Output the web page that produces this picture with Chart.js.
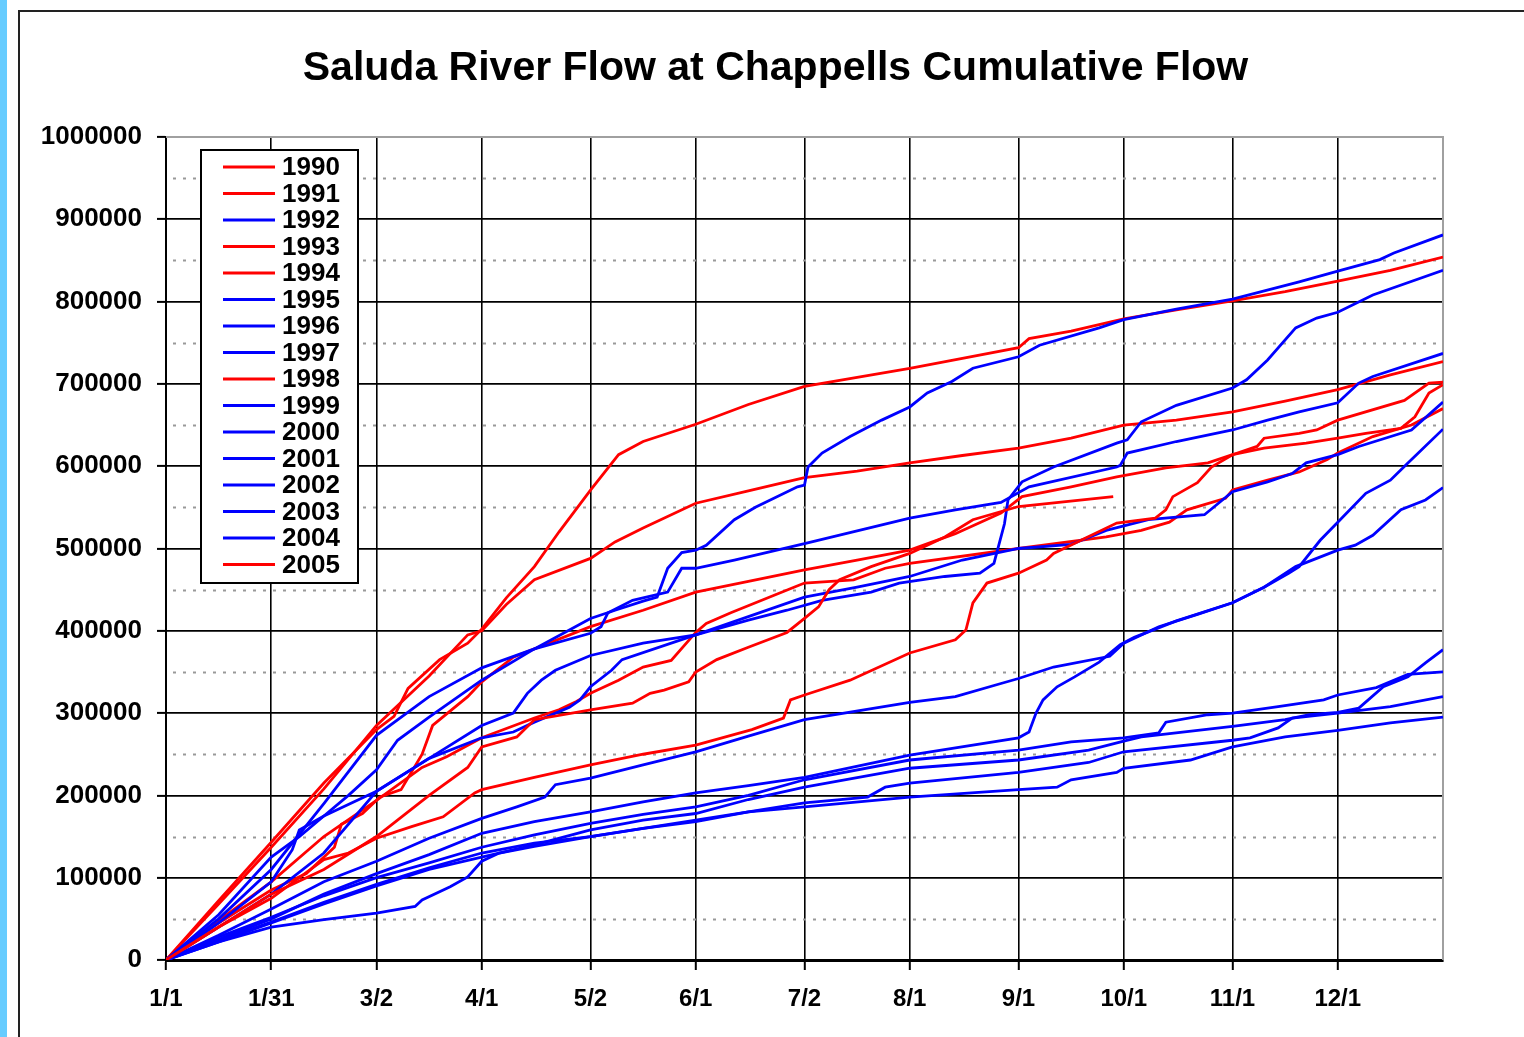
<!DOCTYPE html>
<html>
<head>
<meta charset="utf-8">
<title>Saluda River Flow at Chappells Cumulative Flow</title>
<script src="https://cdn.jsdelivr.net/npm/chart.js@4.4.1/dist/chart.umd.min.js"></script>
<style>
    html, body { margin: 0; padding: 0; background: #fff; }
    body { width: 1524px; height: 1037px; position: relative; overflow: hidden; }
    #strip { position: absolute; left: 0; top: 0; width: 7px; height: 1037px; background: #66ccff; }
    #frame { position: absolute; left: 18px; top: 10px; width: 1520px; height: 1040px; border-left: 2px solid #222; border-top: 2px solid #222; }
    #wrap { position: absolute; left: 0; top: 0; width: 1524px; height: 1037px; }
</style>
</head>
<body>
<div id="strip"></div>
<div id="frame"></div>
<div id="wrap"><canvas id="chartarea" width="1524" height="1037"></canvas></div>
<script>
// x axis is day of year (0 = 1/1), y is cumulative flow
var chartTitle = 'Saluda River Flow at Chappells Cumulative Flow';
var tickDays = [0, 30, 60, 90, 121, 151, 182, 212, 243, 273, 304, 334];
var tickLabels = ['1/1', '1/31', '3/2', '4/1', '5/2', '6/1', '7/2', '8/1', '9/1', '10/1', '11/1', '12/1'];

var years = ['1990', '1991', '1992', '1993', '1994', '1995', '1996', '1997',
             '1998', '1999', '2000', '2001', '2002', '2003', '2004', '2005'];

// [day, cumulative flow]
var flow1990 = [[0, 0], [15, 72000], [30, 143000], [45, 215000], [60, 280000], [65, 296000], [69, 330000], [78, 365000], [86, 385000], [90, 402000], [97, 440000], [105, 478000], [112, 520000], [121, 571000], [129, 614000], [136, 630000], [151, 651000], [166, 675000], [182, 697000], [197, 708000], [212, 719000], [227, 731000], [243, 744000], [246, 755000], [258, 764000], [273, 779000], [288, 790000], [304, 801000], [319, 812000], [334, 825000], [349, 838000], [364, 854000]];
var flow1991 = [[0, 0], [15, 68000], [30, 137000], [45, 208000], [60, 285000], [75, 345000], [86, 395000], [90, 400000], [97, 432000], [105, 462000], [121, 488000], [128, 508000], [136, 525000], [151, 555000], [166, 570000], [182, 586000], [197, 594000], [212, 604000], [227, 613000], [243, 622000], [258, 634000], [273, 650000], [288, 656000], [304, 666000], [319, 679000], [334, 693000], [349, 711000], [364, 727000]];
var flow1992 = [[0, 0], [15, 30000], [30, 62000], [45, 95000], [60, 120000], [75, 148000], [90, 172000], [100, 186000], [108, 198000], [111, 213000], [121, 221000], [136, 237000], [151, 253000], [166, 272000], [182, 292000], [212, 313000], [225, 320000], [238, 336000], [243, 342000], [253, 356000], [269, 369000], [273, 385000], [283, 405000], [294, 420000], [304, 434000], [313, 453000], [320, 470000], [323, 478000], [329, 510000], [334, 532000], [342, 567000], [349, 583000], [354, 604000], [364, 645000]];
var flow1993 = [[0, 0], [15, 45000], [30, 85000], [40, 105000], [48, 137000], [50, 165000], [56, 178000], [61, 198000], [67, 207000], [73, 250000], [76, 285000], [86, 320000], [90, 338000], [99, 368000], [121, 405000], [136, 425000], [151, 447000], [166, 460000], [182, 474000], [197, 486000], [212, 498000], [225, 518000], [238, 543000], [244, 563000], [258, 575000], [271, 587000], [285, 598000], [297, 604000], [304, 614000], [313, 622000], [325, 628000], [334, 634000], [342, 640000], [352, 646000], [356, 660000], [360, 689000], [364, 699000]];
var flow1994 = [[0, 0], [15, 48000], [30, 95000], [45, 150000], [60, 194000], [73, 234000], [80, 247000], [90, 270000], [105, 294000], [112, 304000], [117, 314000], [121, 324000], [129, 340000], [136, 356000], [144, 364000], [151, 398000], [154, 409000], [161, 422000], [179, 453000], [182, 458000], [196, 462000], [205, 476000], [212, 482000], [243, 500000], [268, 514000], [278, 522000], [286, 532000], [291, 547000], [302, 561000], [304, 571000], [314, 583000], [323, 593000], [331, 608000], [334, 616000], [344, 636000], [355, 650000], [364, 670000]];
var flow1995 = [[0, 0], [15, 50000], [30, 110000], [45, 190000], [60, 273000], [75, 320000], [90, 355000], [105, 378000], [121, 397000], [124, 405000], [126, 422000], [133, 437000], [143, 447000], [147, 476000], [151, 476000], [162, 486000], [182, 506000], [212, 537000], [225, 547000], [238, 556000], [246, 575000], [271, 599000], [272, 601000], [274, 616000], [288, 630000], [304, 644000], [314, 656000], [323, 666000], [334, 677000], [340, 701000], [344, 709000], [364, 737000]];
var flow1996 = [[0, 0], [15, 45000], [30, 95000], [36, 134000], [38, 158000], [45, 175000], [60, 205000], [75, 245000], [90, 285000], [99, 300000], [103, 324000], [107, 340000], [111, 352000], [121, 370000], [136, 385000], [151, 395000], [166, 413000], [177, 425000], [187, 437000], [201, 447000], [209, 458000], [222, 466000], [232, 470000], [236, 482000], [239, 530000], [240, 559000], [244, 581000], [253, 599000], [271, 628000], [274, 632000], [278, 654000], [288, 674000], [304, 695000], [308, 705000], [314, 729000], [322, 768000], [328, 780000], [334, 787000], [344, 808000], [364, 838000]];
var flow1997 = [[0, 0], [15, 40000], [30, 80000], [45, 130000], [60, 205000], [75, 245000], [90, 270000], [99, 277000], [105, 289000], [115, 307000], [118, 316000], [121, 332000], [127, 352000], [130, 365000], [151, 395000], [182, 441000], [197, 453000], [212, 466000], [227, 486000], [243, 500000], [258, 505000], [268, 522000], [280, 535000], [296, 541000], [304, 569000], [314, 581000], [321, 591000], [325, 604000], [334, 614000], [340, 624000], [355, 644000], [364, 678000]];
var flow1998 = [[0, 0], [15, 40000], [30, 75000], [45, 122000], [52, 130000], [60, 148000], [70, 162000], [79, 174000], [88, 203000], [90, 207000], [105, 222000], [121, 237000], [136, 250000], [151, 261000], [167, 280000], [176, 294000], [178, 316000], [182, 322000], [195, 340000], [212, 373000], [225, 389000], [228, 401000], [230, 434000], [234, 458000], [243, 470000], [251, 486000], [253, 494000], [271, 531000], [282, 537000], [285, 547000], [287, 563000], [294, 580000], [298, 599000], [304, 614000], [311, 624000], [313, 634000], [323, 640000], [328, 644000], [334, 656000], [353, 680000], [360, 701000], [364, 702000]];
var flow1999 = [[0, 0], [15, 28000], [30, 52000], [45, 78000], [60, 100000], [75, 118000], [90, 137000], [105, 152000], [121, 166000], [136, 177000], [151, 186000], [166, 200000], [182, 219000], [212, 243000], [243, 255000], [258, 265000], [273, 270000], [283, 276000], [285, 289000], [297, 298000], [304, 300000], [317, 308000], [330, 316000], [334, 322000], [345, 331000], [354, 347000], [364, 350000]];
var flow2000 = [[0, 0], [15, 22000], [30, 45000], [45, 68000], [60, 90000], [75, 110000], [90, 125000], [105, 140000], [121, 158000], [136, 170000], [151, 178000], [166, 195000], [182, 210000], [212, 233000], [243, 243000], [263, 255000], [273, 266000], [278, 271000], [304, 284000], [319, 292000], [326, 298000], [334, 301000], [340, 306000], [347, 332000], [354, 344000], [359, 361000], [364, 377000]];
var flow2001 = [[0, 0], [15, 24000], [30, 46000], [45, 70000], [60, 92000], [75, 112000], [90, 130000], [105, 142000], [121, 150000], [136, 160000], [151, 168000], [166, 180000], [182, 191000], [200, 198000], [205, 210000], [212, 215000], [243, 228000], [263, 240000], [273, 253000], [304, 267000], [309, 270000], [317, 282000], [321, 294000], [334, 300000], [349, 308000], [364, 320000]];
var flow2002 = [[0, 0], [15, 22000], [30, 40000], [45, 49000], [60, 57000], [71, 65000], [73, 73000], [81, 89000], [86, 101000], [90, 120000], [95, 130000], [105, 138000], [121, 150000], [136, 160000], [151, 170000], [166, 180000], [182, 186000], [212, 198000], [243, 207000], [254, 210000], [258, 219000], [271, 228000], [273, 233000], [292, 243000], [304, 259000], [319, 271000], [334, 279000], [349, 288000], [364, 295000]];
var flow2003 = [[0, 0], [15, 55000], [30, 125000], [38, 150000], [45, 175000], [52, 200000], [60, 231000], [66, 267000], [75, 295000], [90, 340000], [105, 378000], [121, 415000], [128, 425000], [136, 436000], [140, 441000], [143, 476000], [147, 495000], [151, 498000], [154, 504000], [162, 535000], [168, 550000], [180, 575000], [182, 577000], [183, 599000], [187, 616000], [195, 636000], [204, 656000], [212, 672000], [217, 689000], [224, 703000], [230, 719000], [243, 733000], [249, 747000], [266, 768000], [273, 778000], [288, 791000], [304, 803000], [323, 824000], [334, 837000], [346, 851000], [350, 859000], [364, 881000]];
var flow2004 = [[0, 0], [15, 25000], [30, 50000], [45, 80000], [60, 105000], [75, 128000], [90, 154000], [105, 168000], [121, 180000], [136, 192000], [151, 203000], [166, 212000], [182, 222000], [212, 249000], [243, 270000], [246, 277000], [248, 300000], [250, 316000], [254, 332000], [259, 344000], [266, 362000], [272, 383000], [276, 392000], [288, 412000], [304, 434000], [313, 453000], [322, 478000], [334, 498000], [339, 504000], [344, 516000], [352, 547000], [359, 559000], [364, 574000]];
var flow2005 = [[0, 0], [15, 40000], [30, 80000], [45, 110000], [60, 150000], [75, 200000], [86, 234000], [90, 259000], [100, 271000], [105, 292000], [121, 304000], [133, 312000], [138, 324000], [142, 328000], [149, 338000], [151, 350000], [157, 365000], [166, 380000], [177, 398000], [182, 415000], [186, 429000], [189, 450000], [192, 462000], [201, 478000], [212, 494000], [222, 514000], [230, 535000], [243, 551000], [270, 563000]];

var allFlows = [flow1990, flow1991, flow1992, flow1993, flow1994, flow1995, flow1996, flow1997,
                flow1998, flow1999, flow2000, flow2001, flow2002, flow2003, flow2004, flow2005];

var RED = '#ff0000';
var BLUE = '#0000ff';
var lineColors = [RED, RED, BLUE, RED, RED, BLUE, BLUE, BLUE, RED, BLUE, BLUE, BLUE, BLUE, BLUE, BLUE, RED];

var FONT = '"Liberation Sans", Arial, Helvetica, sans-serif';

var datasets = years.map(function (yr, i) {
    return {
        label: yr,
        data: allFlows[i].map(function (p) { return { x: p[0], y: p[1] }; }),
        borderColor: lineColors[i],
        backgroundColor: lineColors[i],
        borderWidth: 2.8,
        pointRadius: 0,
        tension: 0,
        fill: false,
        order: years.length - i   // later years drawn on top, like the original
    };
});

// title drawn by hand so it can sit centred over the plot like the original
var titleText = {
    id: 'titleText',
    afterDraw: function (chart) {
        var ctx = chart.ctx, area = chart.chartArea;
        ctx.save();
        ctx.font = 'bold 41px ' + FONT;
        ctx.fillStyle = '#000';
        ctx.textAlign = 'center';
        ctx.textBaseline = 'alphabetic';
        ctx.fillText(chartTitle, (area.left + area.right) / 2 - 29, 80);
        ctx.restore();
    }
};

// dotted half-step lines and the grey top / right frame of the plot
var plotDecor = {
    id: 'plotDecor',
    beforeDatasetsDraw: function (chart) {
        var ctx = chart.ctx, area = chart.chartArea, ys = chart.scales.y;
        ctx.save();
        ctx.strokeStyle = '#999';
        ctx.lineWidth = 2;
        ctx.setLineDash([3, 7]);
        for (var v = 50000; v < 1000000; v += 100000) {
            var py = Math.round(ys.getPixelForValue(v)) + 0.5;
            ctx.beginPath();
            ctx.moveTo(area.left + 7, py);
            ctx.lineTo(area.right, py);
            ctx.stroke();
        }
        ctx.setLineDash([]);
        ctx.strokeStyle = '#a0a0a0';
        ctx.lineWidth = 2;
        ctx.beginPath();
        ctx.moveTo(area.left, area.top);
        ctx.lineTo(area.right, area.top);
        ctx.lineTo(area.right, area.bottom);
        ctx.stroke();
        ctx.restore();
    }
};

// boxed legend sitting inside the plot, upper left
var boxLegend = {
    id: 'boxLegend',
    afterDatasetsDraw: function (chart) {
        var ctx = chart.ctx, area = chart.chartArea;
        var bx = area.left + 35, by = area.top + 13, bw = 157, bh = 433;
        var rowH = 26.5;
        ctx.save();
        ctx.fillStyle = '#fff';
        ctx.fillRect(bx, by, bw, bh);
        ctx.strokeStyle = '#000';
        ctx.lineWidth = 2;
        ctx.strokeRect(bx, by, bw, bh);
        ctx.font = 'bold 26px ' + FONT;
        ctx.textBaseline = 'middle';
        ctx.textAlign = 'left';
        chart.data.datasets.forEach(function (ds, i) {
            var cy = by + 17 + i * rowH;
            ctx.strokeStyle = ds.borderColor;
            ctx.lineWidth = 3;
            ctx.beginPath();
            ctx.moveTo(bx + 22, cy);
            ctx.lineTo(bx + 74, cy);
            ctx.stroke();
            ctx.fillStyle = '#000';
            ctx.fillText(ds.label, bx + 81, cy + 1);
        });
        ctx.restore();
    }
};

var ctx = document.getElementById('chartarea');

var options = {
    animation: false,
    responsive: false,
    devicePixelRatio: 1,
    layout: { padding: { left: 0, right: 81, top: 137, bottom: 0 } },
    plugins: {
        legend: { display: false },
        tooltip: { enabled: false },
        title: { display: false }
    },
    scales: {
        x: {
            type: 'linear',
            min: 0,
            max: 364,
            afterBuildTicks: function (axis) {
                axis.ticks = tickDays.map(function (d) { return { value: d }; });
            },
            afterFit: function (axis) { axis.height = 77; },
            ticks: {
                autoSkip: false,
                maxRotation: 0,
                color: '#000',
                padding: 15,
                font: { family: FONT, size: 24, weight: 'bold' },
                callback: function (v) {
                    var i = tickDays.indexOf(v);
                    return i < 0 ? '' : tickLabels[i];
                }
            },
            grid: { color: '#000', lineWidth: 1.6, tickLength: 10, tickColor: '#000', tickWidth: 2 },
            border: { color: '#000', width: 3 }
        },
        y: {
            min: 0,
            max: 1000000,
            afterFit: function (axis) { axis.width = 166; },
            ticks: {
                stepSize: 100000,
                color: '#000',
                padding: 15,
                font: { family: FONT, size: 26, weight: 'bold' },
                callback: function (v) { return String(v); }
            },
            grid: {
                color: function (c) { return c.tick && c.tick.value === 1000000 ? '#a0a0a0' : '#000'; },
                lineWidth: 1.8,
                tickLength: 9,
                tickColor: '#000',
                tickWidth: 2
            },
            border: { color: '#000', width: 2 }
        }
    }
};

var myChart = new Chart(ctx, {
    type: 'line',
    data: { datasets: datasets },
    options: options,
    plugins: [plotDecor, boxLegend, titleText]
});
</script>
</body>
</html>
